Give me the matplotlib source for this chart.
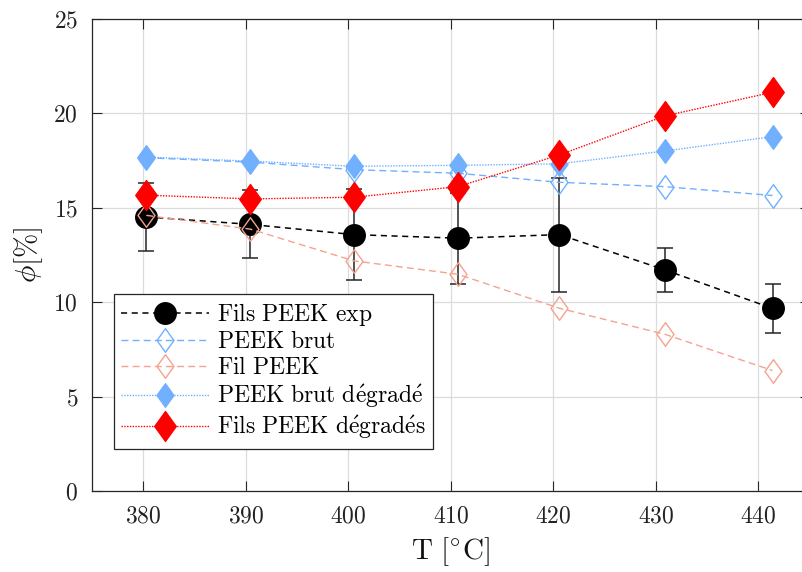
import matplotlib
matplotlib.use("Agg")
import matplotlib.pyplot as plt
from matplotlib.path import Path

plt.rcParams['font.family'] = ['cmr10', 'DejaVu Serif']
plt.rcParams['mathtext.fontset'] = 'cm'
plt.rcParams['axes.formatter.use_mathtext'] = True

# Data
T_pos = [380.3, 390.45, 400.55, 410.7, 420.6, 430.9, 441.4]
fils_exp = [14.52, 14.12, 13.58, 13.39, 13.58, 11.71, 9.67]
fils_exp_err = [1.82, 1.80, 2.42, 2.42, 3.02, 1.17, 1.28]
peek_brut = [17.65, 17.42, 17.02, 16.83, 16.35, 16.12, 15.65]
fil_peek = [14.60, 13.87, 12.19, 11.48, 9.68, 8.30, 6.38]
peek_brut_deg = [17.69, 17.47, 17.20, 17.25, 17.33, 18.01, 18.77]
fils_deg = [15.67, 15.47, 15.56, 16.12, 17.80, 19.87, 21.12]

x_ticks = [380, 390, 400, 410, 420, 430, 440]
y_ticks = [0, 5, 10, 15, 20, 25]

labels = [r'$\mathrm{Fils\ PEEK\ exp}$', r'$\mathrm{PEEK\ brut}$', r'$\mathrm{Fil\ PEEK}$',
          r'$\mathrm{PEEK\ brut\ d\acute{e}grad\acute{e}}$',
          r'$\mathrm{Fils\ PEEK\ d\acute{e}grad\acute{e}s}$']

blue = '#70B0FF'
salmon = '#F4A38F'
red = '#FF0000'
axc = '#262626'

diam = Path([(0, 1), (0.72, 0), (0, -1), (-0.72, 0), (0, 1)],
            [Path.MOVETO, Path.LINETO, Path.LINETO, Path.LINETO, Path.CLOSEPOLY])

fig = plt.figure(figsize=(8.02, 5.72), dpi=100)
ax = fig.add_axes([92/802, 81/572, 717.5/802, 472/572])

ax.errorbar(T_pos, fils_exp, yerr=fils_exp_err, fmt='none',
            ecolor=axc, elinewidth=1.1, capsize=6, capthick=1.1, zorder=2.5)
h0, = ax.plot(T_pos, fils_exp, color='black', ls=(0, (4, 3)), lw=1.1,
              marker='o', ms=15.5, mfc='black', mec='black',
              label=labels[0], zorder=3)
h1, = ax.plot(T_pos, peek_brut, color=blue, ls=(0, (5, 3)), lw=1.0, marker=diam, ms=17,
              mfc='none', mec=blue, mew=1.0, label=labels[1], zorder=4)
h2, = ax.plot(T_pos, fil_peek, color=salmon, ls=(0, (5, 3)), lw=1.0, marker=diam, ms=17,
              mfc='none', mec=salmon, mew=1.0, label=labels[2], zorder=5)
h3, = ax.plot(T_pos, peek_brut_deg, color=blue, ls=(0, (1, 1)), lw=1.0, marker=diam, ms=17,
              mfc=blue, mec=blue, label=labels[3], zorder=6)
h4, = ax.plot(T_pos, fils_deg, color=red, ls=(0, (1, 1)), lw=1.0, marker=diam, ms=21.5,
              mfc=red, mec=red, label=labels[4], zorder=7)

ax.set_xlim(375, 445)
ax.set_ylim(0, 25)
ax.set_xticks(x_ticks)
ax.set_yticks(y_ticks)
ax.grid(True, color='#dcdcdc', lw=0.9)
ax.set_axisbelow(True)
ax.tick_params(direction='in', length=7, width=0.8, colors=axc, labelsize=17,
               top=True, right=True, pad=10)
for t in ax.get_xticklabels() + ax.get_yticklabels():
    t.set_color('#222222')
for s in ax.spines.values():
    s.set_color(axc)
    s.set_linewidth(0.9)

ax.set_xlabel(r'$\mathrm{T}\ [^{\circ}\mathrm{C}]$', fontsize=21, color='#111111', labelpad=6)
ax.set_ylabel(r'$\phi[\%]$', fontsize=21, color='#111111', labelpad=6)

leg = ax.legend(handles=[h0, h1, h2, h3, h4], loc='upper left',
                bbox_to_anchor=(0.031, 0.418), fontsize=17,
                frameon=True, fancybox=False, edgecolor=axc, framealpha=1,
                handlelength=3.7, handletextpad=0.35, labelspacing=0.15,
                borderpad=0.3, borderaxespad=0)
leg.get_frame().set_linewidth(0.9)

fig.savefig('out.png', dpi=100)
